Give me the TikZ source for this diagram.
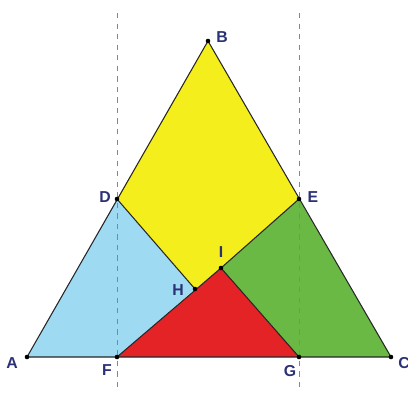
\documentclass[tikz,border=0pt]{standalone}
\usepackage{fontspec}
\setmainfont{Liberation Sans}
\usepackage{xcolor}
\usetikzlibrary{positioning,calc}

\definecolor{skyblue}{HTML}{9FDAF3}
\definecolor{lemon}{HTML}{F4EE1C}
\definecolor{grass}{HTML}{69B944}
\definecolor{crimson}{HTML}{E42326}
\definecolor{ink}{HTML}{2B3175}

\begin{document}
\begin{tikzpicture}[
  x=0.02cm, y=-0.02cm,
  font=\fontsize{9}{10}\selectfont\bfseries,
  piece/.style={draw=black!85, line width=0.6pt, line join=round},
  guide/.style={draw=brown!50!gray, dashed, line width=0.4pt},
  pt/.style={circle, fill=black, inner sep=0pt, minimum size=2.6pt},
  lbl/.style={text=ink, inner sep=1pt},
]
\useasboundingbox (0,0) rectangle (408,392);

% points
\coordinate (A) at (27,357);
\coordinate (B) at (208,41);
\coordinate (C) at (391,357);
\coordinate (D) at (117,199);
\coordinate (E) at (299,199);
\coordinate (F) at (117,357);
\coordinate (G) at (299,357);
\coordinate (H) at (195,289);
\coordinate (I) at (221,268);

% pieces
\fill[skyblue] (A) -- (D) -- (H) -- (F) -- cycle;
\fill[lemon] (D) -- (B) -- (E) -- (I) -- (H) -- cycle;
\fill[grass] (E) -- (C) -- (G) -- (I) -- cycle;
\fill[crimson] (F) -- (I) -- (G) -- cycle;

% guides
\draw[guide] (117,13) -- (117,392);
\draw[guide] (299,13) -- (299,392);

% edges
\draw[piece] (A) -- (B) -- (C) -- cycle;
\draw[piece] (D) -- (H);
\draw[piece] (E) -- (I);
\draw[piece] (F) -- (I) -- (G);

\foreach \p in {A,B,C,D,E,F,G,H,I}
  \node[pt] at (\p) {};

% labels
\node[lbl] (lA) at (12,363) {A};
\node[lbl] (lB) at (222,37) {B};
\node[lbl] (lC) at (404,363) {C};
\node[lbl] (lD) at (105,197) {D};
\node[lbl] (lE) at (313,197) {E};
\node[lbl] (lF) at (107,370) {F};
\node[lbl] (lG) at (290,371) {G};
\node[lbl] (lH) at (178,290) {H};
\node[lbl] (lI) at (221,252) {I};
\end{tikzpicture}
\end{document}
